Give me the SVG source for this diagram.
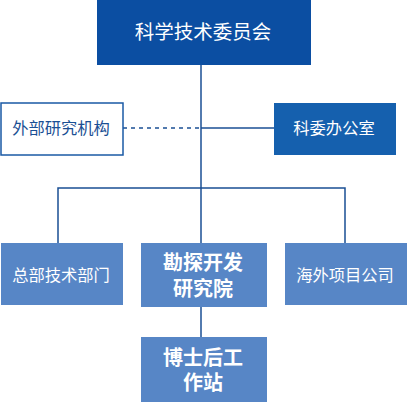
<svg xmlns="http://www.w3.org/2000/svg" width="408" height="402" viewBox="0 0 408 402">
<style>
.t{font-family:"Noto Sans CJK SC","Liberation Sans",sans-serif;fill:#fff;text-anchor:middle}
.s{font-size:16.3px}
.b{font-size:20px;font-weight:bold}
.ln{stroke:#1a4f94;stroke-width:1.5;fill:none}
.mid{fill:#5786c6}
</style>
<rect width="408" height="402" fill="#fff"/>
<g id="connectors">
<line class="ln" x1="201" y1="64" x2="201" y2="243"/>
<line class="ln" x1="123" y1="128" x2="201" y2="128" stroke-dasharray="4,4"/>
<line class="ln" x1="201" y1="128" x2="274" y2="128" stroke="#5b86c0"/>
<polyline class="ln" points="58,243 58,188 345,188 345,243"/>
<line class="ln" x1="201" y1="307" x2="201" y2="337"/>
</g>
<g id="n1"><rect x="97" y="0" width="214" height="65" fill="#0b4ea2"/><text class="t" x="203" y="38.5" font-size="19.5">科学技术委员会</text></g>
<g id="n2"><rect x="1" y="103" width="122" height="52" fill="#fff" stroke="#1a5aa5" stroke-width="1.5"/><text class="t s" x="61" y="134" style="fill:#1a4f94">外部研究机构</text></g>
<g id="n3"><rect x="274" y="103" width="122" height="52" fill="#1560ae"/><text class="t s" x="334" y="134">科委办公室</text></g>
<g id="n4"><rect class="mid" x="1" y="243" width="122" height="62"/><text class="t s" x="61" y="281">总部技术部门</text></g>
<g id="n5"><rect class="mid" x="141" y="243" width="126" height="64"/><text class="t b" x="203" y="269.5">勘探开发</text><text class="t b" x="203" y="295.5">研究院</text></g>
<g id="n6"><rect class="mid" x="285" y="243" width="122" height="62"/><text class="t s" x="345" y="281">海外项目公司</text></g>
<g id="n7"><rect class="mid" x="141" y="337" width="126" height="65"/><text class="t b" x="203" y="364.5">博士后工</text><text class="t b" x="203" y="389.5">作站</text></g>
</svg>
